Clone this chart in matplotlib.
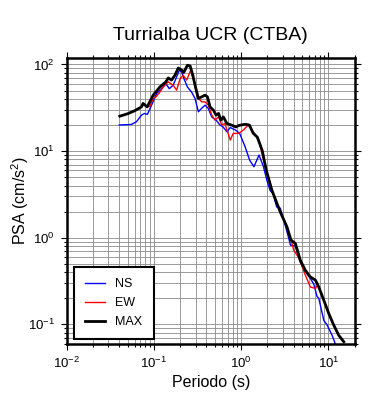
import matplotlib
matplotlib.use("Agg")
import matplotlib.pyplot as plt
from matplotlib.ticker import LogLocator, LogFormatterMathtext, NullFormatter

plt.rcParams['font.family'] = ['Liberation Sans', 'DejaVu Sans']
plt.rcParams['mathtext.fontset'] = 'custom'
plt.rcParams['mathtext.rm'] = 'Liberation Sans'
plt.rcParams['mathtext.it'] = 'Liberation Sans:italic'

# periods (s) and PSA (cm/s^2)
ns_T = [0.040, 0.055, 0.063, 0.072, 0.078, 0.084, 0.094, 0.107, 0.122, 0.137,
        0.150, 0.166, 0.182, 0.196, 0.208, 0.220, 0.242, 0.270, 0.296, 0.323,
        0.350, 0.386, 0.420, 0.460, 0.516, 0.570, 0.620, 0.686, 0.750, 0.860,
        0.960, 1.11, 1.25, 1.40, 1.60, 1.80, 1.97, 2.14, 2.33, 2.55,
        2.80, 3.05, 3.68, 4.18, 4.76, 5.44, 6.20, 6.80, 7.40, 7.75,
        8.85, 9.60, 11.0, 12.1]
ns_psa = [20.0, 20.3, 21.8, 26.0, 27.2, 26.5, 33.9, 46.0, 52.5, 60.0,
          52.5, 57.6, 72.0, 86.0, 82.0, 69.0, 55.0, 48.0, 40.5, 28.4,
          31.0, 33.9, 31.0, 24.8, 22.8, 20.0, 19.0, 16.7, 18.7, 17.5,
          16.0, 11.2, 7.85, 6.6, 9.0, 6.6, 4.6, 3.53, 3.2, 2.27,
          2.2, 1.67, 0.82, 0.80, 0.52, 0.41, 0.34, 0.29, 0.21, 0.20,
          0.111, 0.0995, 0.075, 0.058]

ew_T = [0.040, 0.050, 0.060, 0.072, 0.075, 0.0836, 0.090, 0.098, 0.105, 0.117,
        0.128, 0.146, 0.166, 0.182, 0.200, 0.216, 0.237, 0.264, 0.284, 0.315,
        0.353, 0.386, 0.420, 0.460, 0.500, 0.550, 0.600, 0.650, 0.750, 0.810,
        0.930, 1.06, 1.20, 1.38, 1.58, 1.70, 1.94, 2.25, 2.80, 3.35,
        3.72, 4.00, 4.60, 5.44, 6.20, 7.10, 7.40, 7.75, 8.85, 10.1,
        11.5, 13.1, 15.0]
ew_psa = [25.3, 27.0, 29.2, 32.4, 35.5, 32.4, 33.0, 40.5, 42.0, 48.0,
          55.0, 63.0, 57.6, 50.5, 69.0, 75.0, 66.0, 86.0, 66.0, 42.0,
          37.0, 37.0, 34.0, 26.0, 22.8, 24.8, 20.0, 20.8, 13.4, 16.0,
          16.0, 17.5, 20.0, 16.7, 13.4, 10.2, 6.0, 3.53, 1.99, 1.33,
          0.94, 0.72, 0.58, 0.37, 0.27, 0.26, 0.28, 0.27, 0.19, 0.133,
          0.098, 0.075, 0.063]

max_T = [0.0407, 0.050, 0.060, 0.0722, 0.075, 0.0836, 0.098, 0.117, 0.137, 0.146,
         0.159, 0.174, 0.190, 0.208, 0.220, 0.242, 0.260, 0.279, 0.296, 0.323,
         0.353, 0.386, 0.410, 0.440, 0.480, 0.516, 0.550, 0.585, 0.625, 0.686,
         0.780, 0.870, 0.946, 1.11, 1.24, 1.37, 1.53, 1.74, 1.94, 2.25,
         2.80, 3.35, 3.72, 4.18, 4.76, 5.44, 6.20, 7.10, 7.75, 8.85,
         10.1, 11.5, 13.1, 15.0]
max_psa = [25.3, 27.0, 29.2, 32.4, 35.5, 32.4, 44.2, 55.0, 63.0, 70.0,
           66.0, 75.0, 91.0, 86.0, 81.0, 98.0, 96.0, 75.0, 57.7, 40.5,
           42.3, 44.2, 42.3, 32.4, 29.7, 26.0, 27.2, 22.8, 24.8, 20.8,
           19.9, 19.0, 19.8, 20.4, 20.0, 16.1, 14.5, 10.2, 6.0, 3.53,
           1.99, 1.33, 0.94, 0.857, 0.55, 0.42, 0.353, 0.324, 0.27, 0.19,
           0.133, 0.098, 0.075, 0.063]

fig = plt.figure(figsize=(3.9, 4.0), dpi=100)
ax = fig.add_axes([0.171, 0.141, 0.7385, 0.715])

ax.plot(ns_T, ns_psa, color='blue', lw=1.0, label='NS')
ax.plot(ew_T, ew_psa, color='red', lw=1.0, label='EW')
ax.plot(max_T, max_psa, color='black', lw=2.0, label='MAX')

ax.set_xscale('log')
ax.set_yscale('log')
ax.set_xlim(0.01, 20)
ax.set_ylim(0.06, 120)

for axis in (ax.xaxis, ax.yaxis):
    axis.set_major_locator(LogLocator(base=10, numticks=10))
    axis.set_minor_locator(LogLocator(base=10, subs=range(2, 10), numticks=20))
    axis.set_major_formatter(LogFormatterMathtext())
    axis.set_minor_formatter(NullFormatter())

ax.grid(True, which='both', color='#8a8a8a', lw=0.6)
ax.set_axisbelow(True)
ax.tick_params(which='both', direction='out', top=True, right=True, width=0.8,
               labelsize=9.5)
ax.tick_params(which='major', length=4, pad=4.5)
ax.tick_params(which='minor', length=2.5)
for sp in ax.spines.values():
    sp.set_linewidth(1.8)

ax.set_title('Turrialba UCR (CTBA)', fontsize=14, pad=13)
ax.set_xlabel('Periodo (s)', fontsize=11.5, labelpad=3)
ax.set_ylabel('PSA (cm/s$^2$)', fontsize=11.5)
ax.yaxis.set_label_coords(-0.125, 0.5)

leg = ax.legend(loc='lower left', bbox_to_anchor=(0.025, 0.015), fontsize=9,
                fancybox=False, framealpha=1, edgecolor='black',
                handlelength=1.6, borderpad=0.9, labelspacing=0.55,
                borderaxespad=0.0)
leg.get_frame().set_linewidth(1.5)

fig.savefig('out.png', dpi=100)
